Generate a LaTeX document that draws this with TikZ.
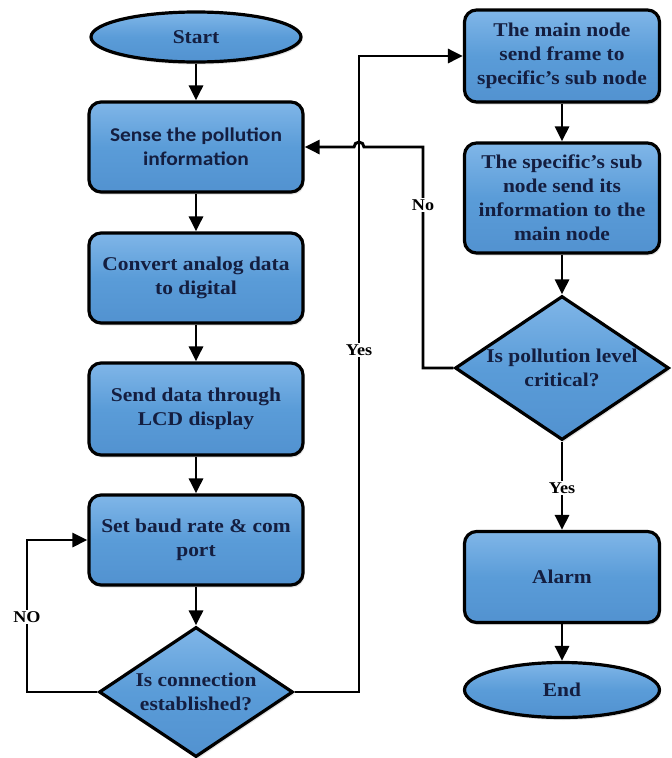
\documentclass[tikz,border=0pt]{standalone}
\usepackage{fontspec}
\newfontfamily\tnrfont[FakeStretch=1.1]{Liberation Serif}
\newfontfamily\calfont[FakeStretch=1.1]{Carlito}
\usetikzlibrary{shapes.geometric,arrows.meta,shadows,calc}
\definecolor{boxblue}{RGB}{90,156,216}
\definecolor{boxtop}{RGB}{128,182,232}
\definecolor{boxbot}{RGB}{82,146,208}
\definecolor{navy}{RGB}{20,30,64}
\begin{document}
\begin{tikzpicture}[x=1pt,y=-1pt,
  base/.style={draw=black, line width=3.2pt, top color=boxtop, bottom color=boxbot, middle color=boxblue,
    text=navy, font=\tnrfont\bfseries\fontsize{19.5}{24}\selectfont, align=center, inner sep=0pt,
    drop shadow={opacity=0.22,shadow xshift=1.5pt,shadow yshift=-2.5pt}},
  procbox/.style={base, rectangle, rounded corners=12pt, minimum width=214pt, minimum height=90pt},
  rbox/.style={base, rectangle, rounded corners=12pt, minimum width=195pt},
  terminal/.style={base, ellipse},
  decision/.style={base, diamond, aspect=1.5},
  arr/.style={draw=black, line width=2.9pt, -{Triangle[length=15pt,width=14pt]}},
  lbl/.style={fill=white, inner sep=1.5pt, text=black, font=\tnrfont\bfseries\fontsize{16.5}{18}\selectfont}
]
\useasboundingbox (0,0) rectangle (672,758);

% left column
\node[terminal, minimum width=210pt, minimum height=50pt] (start) at (196,37) {Start};
\node[procbox, font=\calfont\bfseries\fontsize{19.5}{24}\selectfont] (b1) at (196,147) {Sense the pollution\\information};
\node[procbox] (b2) at (196,278) {Convert analog data\\to digital};
\node[procbox, minimum height=92pt] (b3) at (196,409) {Send data through\\LCD display};
\node[procbox] (b4) at (196,540) {Set baud rate \& com\\port};
\node[decision, minimum width=194pt, minimum height=130pt] (d1) at (196,692) {Is connection\\established?};

% right column
\node[rbox, minimum height=92pt] (r1) at (562,56) {The main node\\send frame to\\specific’s sub node};
\node[rbox, minimum height=110pt] (r2) at (562,198) {The specific’s sub\\node send its\\information to the\\main node};
\node[decision, minimum width=214pt, minimum height=144pt] (d2) at (562,368) {Is pollution level\\critical?};
\node[rbox, minimum height=91pt] (alarm) at (562,577) {Alarm};
\node[terminal, minimum width=195pt, minimum height=55pt] (end) at (562,690) {End};

% helper coordinates
\coordinate (nol) at (27,0);
\coordinate (yx) at (359,0);
\coordinate (nx) at (423,0);

% main flow
\draw[arr] (start) -- (b1);
\draw[arr] (b1) -- (b2);
\draw[arr] (b2) -- (b3);
\draw[arr] (b3) -- (b4);
\draw[arr] (b4) -- (d1);
\draw[arr] (r1) -- (r2);
\draw[arr] (r2) -- (d2);
\draw[arr] (d2) -- (alarm);
\draw[arr] (alarm) -- (end);

% NO loop
\draw[arr] (d1.west) -- (nol |- d1.west) |- (b4.west);
% Yes to right column
\draw[arr] (d1.east) -- (yx |- d1.east) |- (r1.west);
% No from pollution decision, hopping over Yes line
\draw[arr] (d2.west) -- (nx |- d2.west) -- (nx |- b1.east)
  -- ($(yx |- b1.east)+(5,0)$) arc[start angle=0, end angle=-180, radius=5] -- (b1.east);

% labels
\node[lbl] (lno) at (27,617) {NO};
\node[lbl] (lyes) at (359,350) {Yes};
\node[lbl] (lno2) at (423,205) {No};
\node[lbl] (lyes2) at (562,488) {Yes};
\end{tikzpicture}
\end{document}
